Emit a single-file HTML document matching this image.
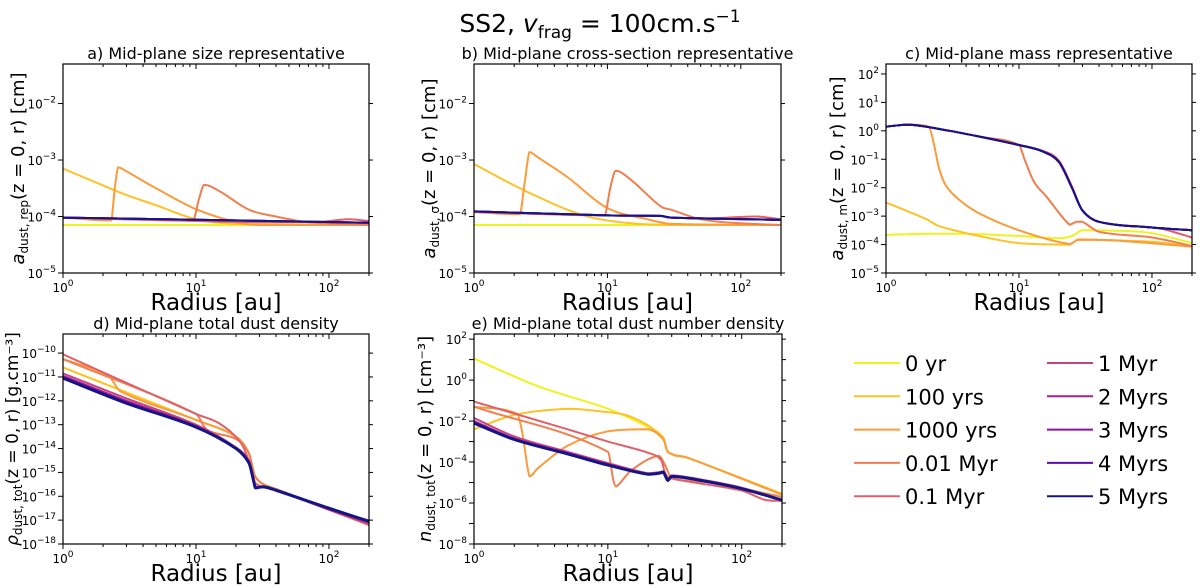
<!DOCTYPE html>
<html><head><meta charset="utf-8"><style>
body{margin:0;background:#fff;}
svg{display:block;font-family:"DejaVu Sans","Liberation Sans",sans-serif;}
</style></head><body>
<svg id="fig" width="1200" height="588" viewBox="0 0 1200 588" xmlns="http://www.w3.org/2000/svg">
<text x="600" y="32" text-anchor="middle" font-size="25">SS2, <tspan font-style="italic">v</tspan><tspan font-size="17" dy="6">frag</tspan><tspan dy="-6"> = 100cm.s</tspan><tspan font-size="17" dy="-10">−1</tspan></text>
</svg>
<script>
// ---- series labels & colors ----
const seriesNames = ["0 yr","100 yrs","1000 yrs","0.01 Myr","0.1 Myr","1 Myr","2 Myrs","3 Myrs","4 Myrs","5 Myrs"];
const seriesColors = ["#eef31f","#fcc226","#fb9b3a","#f07e4f","#e0606a","#c8437e","#a91e9b","#8a12a6","#5d0bb0","#141685"];
// ---- panel a: log10 size rep ----
const aR = [[1,200],[1,2,3,5,10,20,200],[1,2.3,2.45,2.6,3,5,10,20,30,200],[1,9.5,10.5,11.5,15,25,40,70,200],[1,10,30,80,140,200],[1,200],[1,200],[1,200],[1,200],[1,200]];
const aV = [[-4.15,-4.15],[-3.15,-3.45,-3.62,-3.8,-4.05,-4.13,-4.15],[-4.02,-4.07,-3.5,-3.13,-3.2,-3.5,-3.87,-4.1,-4.15,-4.15],[-4.02,-4.07,-3.7,-3.44,-3.55,-3.88,-4.0,-4.1,-4.15],[-4.02,-4.08,-4.1,-4.1,-4.05,-4.08],[-4.02,-4.11],[-4.02,-4.11],[-4.02,-4.11],[-4.02,-4.11],[-4.02,-4.11]];
// ---- panel b: log10 cross-section rep ----
const bR = [[1,200],[1,2,3,5,8,15,30,200],[1,2.2,2.4,2.6,3,5,10,20,30,200],[1,9.5,10.5,11.5,15,25,30,50,100,200],[1,10,25,30,60,130,200],[1,10,25,30,200],[1,10,25,30,200],[1,10,25,30,200],[1,10,25,30,200],[1,10,25,30,200]];
const bV = [[-4.15,-4.15],[-3.07,-3.45,-3.65,-3.88,-4.03,-4.12,-4.15,-4.15],[-3.92,-3.96,-3.4,-2.86,-2.95,-3.3,-3.85,-4.05,-4.13,-4.15],[-3.92,-3.98,-3.5,-3.19,-3.35,-3.82,-3.88,-4.05,-4.12,-4.15],[-3.92,-3.98,-3.99,-4.02,-4.03,-4.0,-4.05],[-3.91,-3.98,-3.99,-4.02,-4.06],[-3.91,-3.98,-3.99,-4.02,-4.06],[-3.91,-3.98,-3.99,-4.02,-4.06],[-3.91,-3.98,-3.99,-4.02,-4.06],[-3.91,-3.98,-3.99,-4.02,-4.06]];
// ---- panel c: log10 mass rep ----
const cR = [[1,2,4,10,20,25,30,60,100,200],[1,2,2.5,5,10,24,28,50,100,200],[1,1.5,2.1,2.3,2.5,2.8,3.5,5,10,24,28,50,200],[1,1.5,3,5,10,11,13,16,24,27,30,40,100,200],[1,1.5,3,5,10,15,20,25,30,40,100,120,200],[1,1.5,3,5,10,15,20,25,30,40,100,200],[1,1.5,3,5,10,15,20,25,30,40,100,200],[1,1.5,3,5,10,15,20,25,30,40,100,200],[1,1.5,3,5,10,15,20,25,30,40,100,200],[1,1.5,3,5,10,15,20,25,30,40,100,200]];
const cV = [[-3.66,-3.62,-3.62,-3.7,-3.78,-3.7,-3.5,-3.52,-3.6,-3.95],[-2.52,-3.1,-3.35,-3.7,-3.95,-4.0,-3.82,-3.85,-3.9,-4.05],[0.15,0.22,0.15,-0.5,-1.3,-1.9,-2.4,-2.9,-3.5,-3.98,-3.83,-3.85,-4.07],[0.15,0.22,0.0,-0.2,-0.5,-1.0,-1.8,-2.3,-3.3,-3.2,-3.2,-3.55,-3.75,-4.05],[0.15,0.22,0.0,-0.2,-0.5,-0.7,-1.05,-1.95,-2.8,-3.2,-3.4,-3.45,-3.75],[0.15,0.22,0.0,-0.2,-0.5,-0.72,-1.1,-2.0,-2.8,-3.2,-3.4,-3.5],[0.15,0.22,0.0,-0.2,-0.5,-0.72,-1.1,-2.0,-2.8,-3.2,-3.4,-3.5],[0.15,0.22,0.0,-0.2,-0.5,-0.72,-1.1,-2.0,-2.8,-3.2,-3.4,-3.5],[0.15,0.22,0.0,-0.2,-0.5,-0.72,-1.1,-2.0,-2.8,-3.2,-3.4,-3.5],[0.15,0.22,0.0,-0.2,-0.5,-0.72,-1.1,-2.0,-2.8,-3.2,-3.4,-3.5]];
// ---- panel d: log10 total dust density ----
const dR = [[1,10,20,25,28,40,200],[1,10,20,25,28,40,200],[1,2.2,2.7,10,20,25,28,40,200],[1,10,12,20,25,28,40,200],[1,10,15,22,26,28,40,200],[1,3,10,20,25,27,28,32,40,100,200],[1,3,10,20,25,27,28,32,40,100,200],[1,3,10,20,25,27,28,32,40,100,200],[1,3,10,20,25,27,28,32,40,100,200],[1,3,10,20,25,27,28,32,40,100,200]];
const dV = [[-10.6,-12.8,-13.5,-14.2,-15.2,-15.7,-17.2],[-10.6,-12.8,-13.5,-14.2,-15.2,-15.7,-17.2],[-10.25,-10.95,-11.6,-12.8,-13.5,-14.2,-15.2,-15.7,-17.2],[-10.25,-12.55,-13.2,-13.6,-14.2,-15.2,-15.7,-17.2],[-10.05,-12.55,-12.95,-13.8,-14.8,-15.45,-15.7,-17.2],[-10.85,-11.9,-13.0,-13.95,-14.5,-15.2,-15.6,-15.6,-15.75,-16.55,-17.15],[-10.95,-12.0,-13.05,-14.0,-14.55,-15.25,-15.65,-15.62,-15.75,-16.55,-17.1],[-11.0,-12.05,-13.1,-14.0,-14.6,-15.3,-15.65,-15.6,-15.75,-16.5,-17.08],[-11.02,-12.08,-13.1,-14.0,-14.6,-15.3,-15.65,-15.6,-15.75,-16.5,-17.06],[-11.05,-12.1,-13.1,-14.0,-14.6,-15.3,-15.65,-15.6,-15.75,-16.5,-17.05]];
// ---- panel e: log10 total dust number density ----
const eR = [[1,3,10,20,26,28,40,200],[1,2,5,8,15,26,28,40,200],[1,2.1,2.3,2.6,3,5,10,20,26,28,40,200],[1,10,11,11.5,15,24,27,30,60,200],[1,5,10,20,25,27,30,100,150,200],[1,2,5,10,20,24,26,27,28,30,60,100,200],[1,2,5,10,20,24,26,27,28,30,60,100,200],[1,2,5,10,20,24,26,27,28,30,60,100,200],[1,2,5,10,20,24,26,27,28,30,60,100,200],[1,2,5,10,20,24,26,27,28,30,60,100,200]];
const eV = [[1.05,-0.3,-1.4,-2.3,-2.8,-3.5,-3.8,-5.55],[-2.4,-1.7,-1.4,-1.5,-1.8,-2.8,-3.5,-3.8,-5.55],[-1.3,-1.65,-2.6,-4.7,-4.3,-3.2,-2.5,-2.4,-2.9,-3.5,-3.8,-5.6],[-1.3,-3.5,-4.9,-5.2,-4.4,-3.7,-4.2,-4.8,-5.0,-5.7],[-1.05,-2.4,-3.0,-3.55,-3.9,-4.6,-4.8,-5.4,-5.85,-5.9],[-1.85,-2.75,-3.5,-4.05,-4.55,-4.5,-4.45,-4.65,-4.85,-4.65,-4.95,-5.25,-5.85],[-2.0,-2.85,-3.55,-4.1,-4.6,-4.55,-4.5,-4.7,-4.9,-4.7,-5.0,-5.3,-5.85],[-2.05,-2.88,-3.58,-4.12,-4.6,-4.55,-4.5,-4.7,-4.9,-4.7,-5.0,-5.3,-5.85],[-2.08,-2.9,-3.6,-4.15,-4.6,-4.55,-4.5,-4.7,-4.9,-4.7,-5.0,-5.3,-5.85],[-2.1,-2.9,-3.6,-4.15,-4.6,-4.55,-4.5,-4.7,-4.9,-4.7,-5.0,-5.3,-5.85]];
// ---- tick label exponents ----
const aTicks = [-5,-4,-3,-2];
const cTicks = [-5,-4,-3,-2,-1,0,1,2];
const dTicks = [-18,-17,-16,-15,-14,-13,-12,-11,-10];
const eTicks = [-8,-6,-4,-2,0,2];
const xTicks = [0,1,2];

const NS = "http://www.w3.org/2000/svg";
const svg = document.getElementById('fig');
function mk(tag, attrs, parent){const e=document.createElementNS(NS,tag);for(const k in attrs)e.setAttribute(k,attrs[k]);(parent||svg).appendChild(e);return e;}
function smoothPath(pts){
 if(pts.length<3) return 'M'+pts.map(p=>p[0].toFixed(1)+','+p[1].toFixed(1)).join(' L');
 let d='M'+pts[0][0].toFixed(1)+','+pts[0][1].toFixed(1);
 for(let i=0;i<pts.length-1;i++){
  const p0=pts[Math.max(0,i-1)],p1=pts[i],p2=pts[i+1],p3=pts[Math.min(pts.length-1,i+2)];
  const dx=p2[0]-p1[0];
  const s1=(p2[1]-p0[1])/Math.max(1e-6,p2[0]-p0[0]);
  const s2=(p3[1]-p1[1])/Math.max(1e-6,p3[0]-p1[0]);
  const sec=(p2[1]-p1[1])/Math.max(1e-6,dx);
  const lim=(s)=> (s*sec<=0)?0:(Math.abs(s)>3*Math.abs(sec)?3*sec:s);
  const m1=lim(s1), m2=lim(s2);
  const c1=[p1[0]+dx/3,p1[1]+m1*dx/3];
  const c2=[p2[0]-dx/3,p2[1]-m2*dx/3];
  d+=' C'+c1[0].toFixed(1)+','+c1[1].toFixed(1)+' '+c2[0].toFixed(1)+','+c2[1].toFixed(1)+' '+p2[0].toFixed(1)+','+p2[1].toFixed(1);
 }
 return d;
}

const panels = [
 {id:'a',x0:63,x1:369,y0:64,y1:273,ymin:-5,ymax:-1.3,R:aR,V:aV,ticks:aTicks,ylx:24,title:"a) Mid-plane size representative",ylab:['a','dust, rep','(z = 0, r) [cm]']},
 {id:'b',x0:474,x1:781,y0:64,y1:273,ymin:-5,ymax:-1.3,R:bR,V:bV,ticks:aTicks,ylx:435,title:"b) Mid-plane cross-section representative",ylab:['a','dust, σ','(z = 0, r) [cm]']},
 {id:'c',x0:886,x1:1192,y0:64,y1:273,ymin:-5,ymax:2.35,R:cR,V:cV,ticks:cTicks,ylx:843,title:"c) Mid-plane mass representative",ylab:['a','dust, m','(z = 0, r) [cm]']},
 {id:'d',x0:63,x1:369,y0:334,y1:544,ymin:-18,ymax:-9.2,R:dR,V:dV,ticks:dTicks,ylx:18,title:"d) Mid-plane total dust density",ylab:['ρ','dust, tot','(z = 0, r) [g.cm⁻³]']},
 {id:'e',x0:474,x1:782,y0:334,y1:544,ymin:-8,ymax:2.25,R:eR,V:eV,ticks:eTicks,ylx:431,title:"e) Mid-plane total dust number density",ylab:['n','dust, tot','(z = 0, r) [cm⁻³]']}
];
const xmax = Math.log10(200);

panels.forEach(p=>{
 const g = mk('g',{});
 
 
 const sx = r => p.x0 + Math.log10(r)/xmax*(p.x1-p.x0);
 const sy = v => p.y1 - (v-p.ymin)/(p.ymax-p.ymin)*(p.y1-p.y0);
 const cp = mk('clipPath',{id:'clip'+p.id},g);
 mk('rect',{x:p.x0,y:p.y0,width:p.x1-p.x0,height:p.y1-p.y0},cp);
 const lines = mk('g',{'clip-path':'url(#clip'+p.id+')'},g);
 p.R.forEach((rs,i)=>{
  const pts = rs.map((r,j)=>[sx(r),sy(p.V[i][j])]);
  const pl = mk('path',{d:smoothPath(pts),fill:'none',stroke:seriesColors[i],'stroke-width':(i===9&&(p.id==='d'||p.id==='e'))?3:2,'stroke-linejoin':'round'},lines);
  
  
 });
 const fr = mk('rect',{x:p.x0,y:p.y0,width:p.x1-p.x0,height:p.y1-p.y0,fill:'none',stroke:'#000','stroke-width':1.2},g);
 
 
 for(let d=0; d<=2; d++){
  for(let m=1;m<=9;m++){
   const r=m*Math.pow(10,d); if(r>200) break;
   const x=sx(r), L=m===1?5:3;
   mk('line',{x1:x,x2:x,y1:p.y1,y2:p.y1+L,stroke:'#000','stroke-width':1},g);
   mk('line',{x1:x,x2:x,y1:p.y0,y2:p.y0+L,stroke:'#000','stroke-width':1},g);
  }
 }
 xTicks.forEach(t=>{
  const tx=mk('text',{x:sx(Math.pow(10,t)),y:p.y1+19,'font-size':12,'text-anchor':'middle'},g);
  
  
  tx.innerHTML='10<tspan font-size="9" dy="-6">'+t+'</tspan>';
 });
 for(let v=Math.ceil(p.ymin); v<=p.ymax; v++){
  const y=sy(v);
  mk('line',{x1:p.x0-5,x2:p.x0,y1:y,y2:y,stroke:'#000','stroke-width':1},g);
  mk('line',{x1:p.x1,x2:p.x1+4,y1:y,y2:y,stroke:'#000','stroke-width':1},g);
 }
 p.ticks.forEach(t=>{
  const ty=mk('text',{x:p.x0-7,y:sy(t)+5,'font-size':12,'text-anchor':'end'},g);
  
  
  ty.innerHTML='10<tspan font-size="9" dy="-6">'+(t<0?'−'+(-t):t)+'</tspan>';
 });
 const tt=mk('text',{x:(p.x0+p.x1)/2,y:p.y0-5,'font-size':16,'text-anchor':'middle'},g);
 
 
 tt.textContent=p.title;
 const xl=mk('text',{x:(p.x0+p.x1)/2,y:p.y1+37,'font-size':23,'text-anchor':'middle'},g);
 
 
 xl.textContent='Radius [au]';
 const yl=mk('text',{x:0,y:0,'font-size':p.id==='d'?17:18,'text-anchor':'middle',transform:'translate('+p.ylx+','+((p.y0+p.y1)/2)+') rotate(-90)'},g);
 
 
 yl.innerHTML='<tspan font-style="italic">'+p.ylab[0]+'</tspan><tspan font-size="12" dy="4">'+p.ylab[1]+'</tspan><tspan dy="-4">'+p.ylab[2]+'</tspan>';
});

const leg = mk('g',{});


seriesNames.forEach((n,i)=>{
 const col=Math.floor(i/5), row=i%5;
 const lx = col===0?854:1047, ly = 363 + row*33.3;
 const e = mk('g',{},leg);
 
 
 mk('line',{x1:lx,x2:lx+46,y1:ly,y2:ly,stroke:seriesColors[i],'stroke-width':2},e);
 const t=mk('text',{x:lx+51,y:ly+8,'font-size':21},e);
 t.textContent=n;
});
</script>
</body></html>
